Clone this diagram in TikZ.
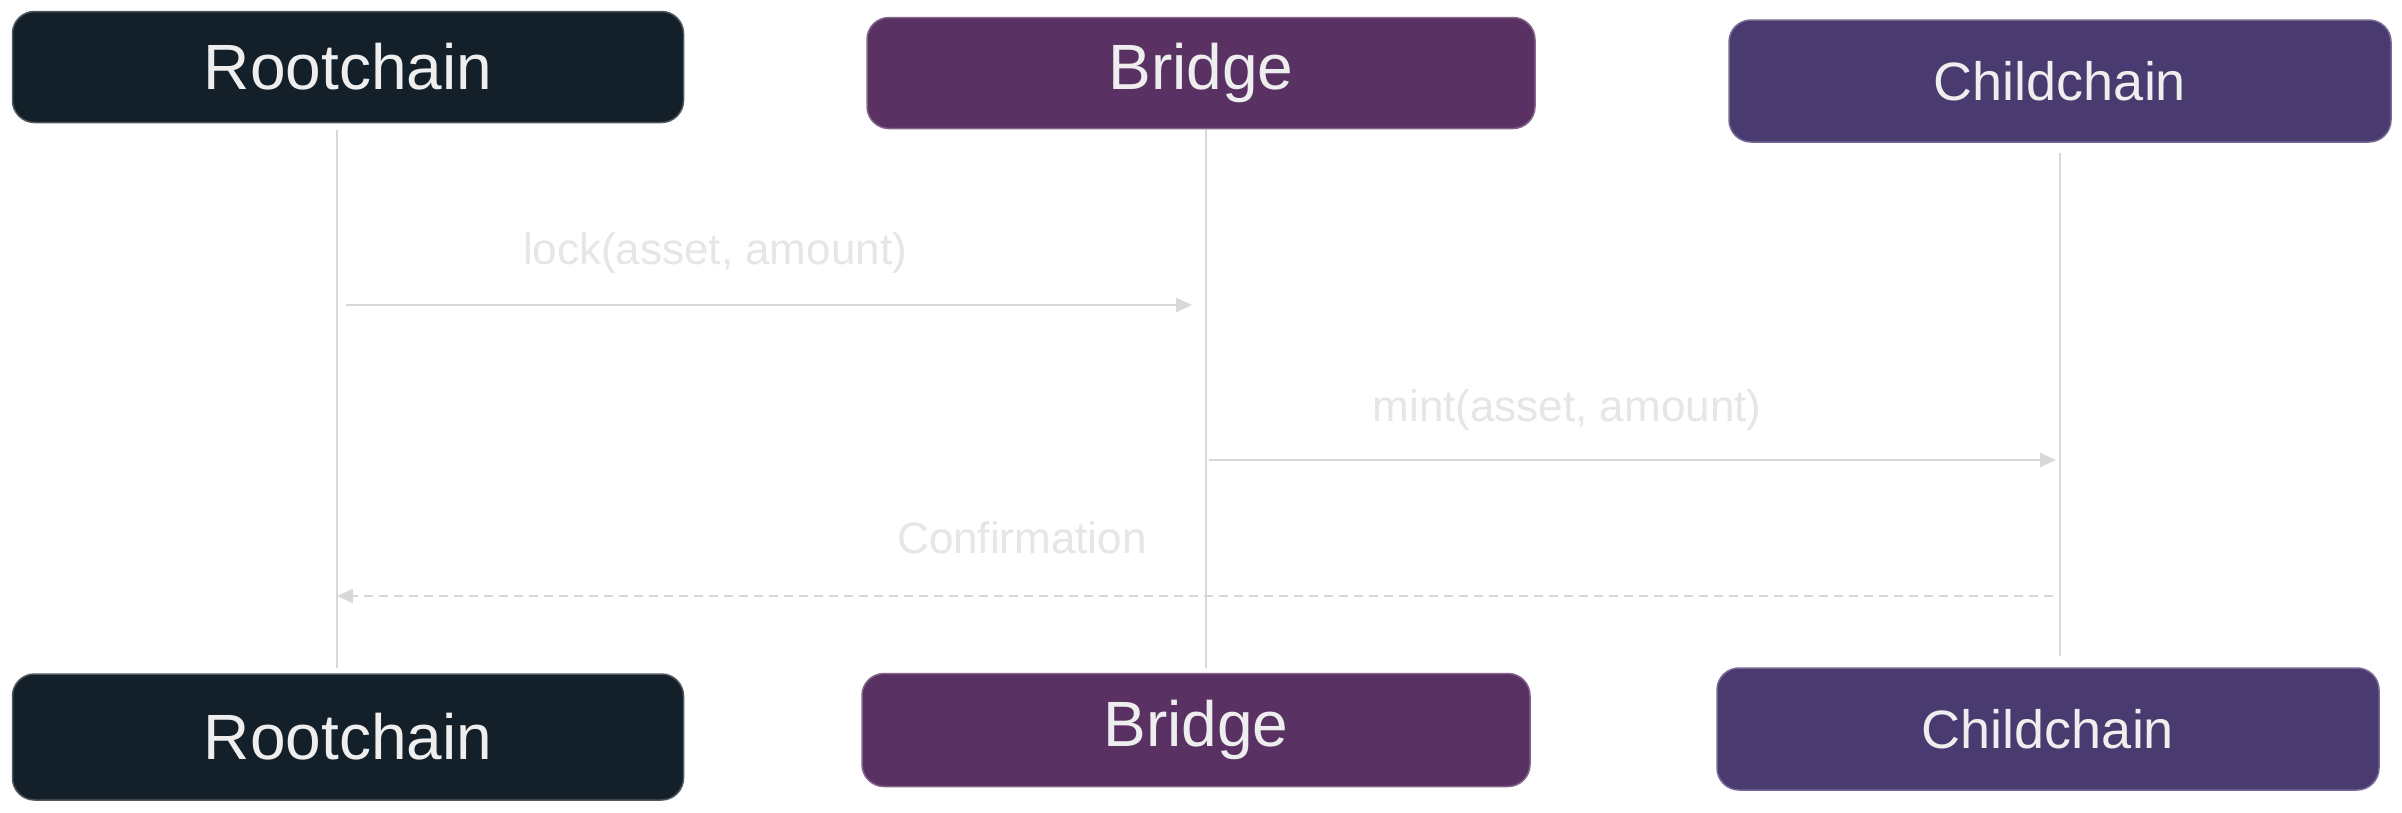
\documentclass[tikz,border=0pt]{standalone}
\usepackage{fontspec}
\setmainfont{Liberation Sans}
\usetikzlibrary{arrows.meta}
\definecolor{rootc}{HTML}{131F29}
\definecolor{bridgec}{HTML}{5A3163}
\definecolor{childc}{HTML}{493A70}
\definecolor{txt}{HTML}{EEEEEE}
\definecolor{lineg}{HTML}{D8D8D8}
\definecolor{labelg}{HTML}{E6E6E6}
\begin{document}
\begin{tikzpicture}[x=1pt,y=-1pt,
  actor/.style={rounded corners=22pt, draw=#1!75!white, line width=1.5pt, fill=#1, text=txt, inner sep=0pt},
  bigname/.style={font=\fontsize{64}{70}\selectfont},
  midname/.style={font=\fontsize{54}{60}\selectfont},
  lifeline/.style={draw=lineg, line width=2pt},
  msg/.style={draw=lineg, line width=2.5pt, -{Triangle[length=16pt,width=14pt]}},
  reply/.style={msg, dash pattern=on 9pt off 6pt},
  lbl/.style={text=labelg, font=\fontsize{44}{50}\selectfont, inner sep=0pt}]
\useasboundingbox (0,0) rectangle (2402,812);
\fill[white] (0,0) rectangle (2402,812);
% top actors
\node[actor=rootc, bigname, minimum width=671pt, minimum height=111pt] (rt) at (348,67) {Rootchain};
\node[actor=bridgec, bigname, minimum width=668pt, minimum height=111pt] (bt) at (1201,73) {Bridge};
\node[actor=childc, midname, minimum width=662pt, minimum height=122pt] (ct) at (2060,81) {Childchain};
% bottom actors
\node[actor=rootc, bigname, minimum width=671pt, minimum height=126pt] (rb) at (348,737) {Rootchain};
\node[actor=bridgec, bigname, minimum width=668pt, minimum height=113pt] (bb) at (1196,730) {Bridge};
\node[actor=childc, midname, minimum width=662pt, minimum height=122pt] (cb) at (2048,729) {Childchain};
% lifelines
\coordinate (rl1) at (337,130); \coordinate (rl2) at (337,668);
\coordinate (bl1) at (1206,130); \coordinate (bl2) at (1206,668);
\coordinate (cl1) at (2060,153); \coordinate (cl2) at (2060,656);
\draw[lifeline] (rl1) -- (rl2);
\draw[lifeline] (bl1) -- (bl2);
\draw[lifeline] (cl1) -- (cl2);
% messages
\coordinate (m1s) at (346,305); \coordinate (m1e) at (1192,305);
\coordinate (m2s) at (1209,460); \coordinate (m2e) at (2056,460);
\coordinate (m3s) at (2053,596); \coordinate (m3e) at (337,596);
\draw[msg] (m1s) -- (m1e);
\draw[msg] (m2s) -- (m2e);
\draw[reply] (m3s) -- (m3e);
\node[lbl] (l1) at (715,253) {lock(asset, amount)};
\node[lbl] (l2) at (1567,410) {mint(asset, amount)};
\node[lbl] (l3) at (1022,538) {Confirmation};
\end{tikzpicture}
\end{document}
